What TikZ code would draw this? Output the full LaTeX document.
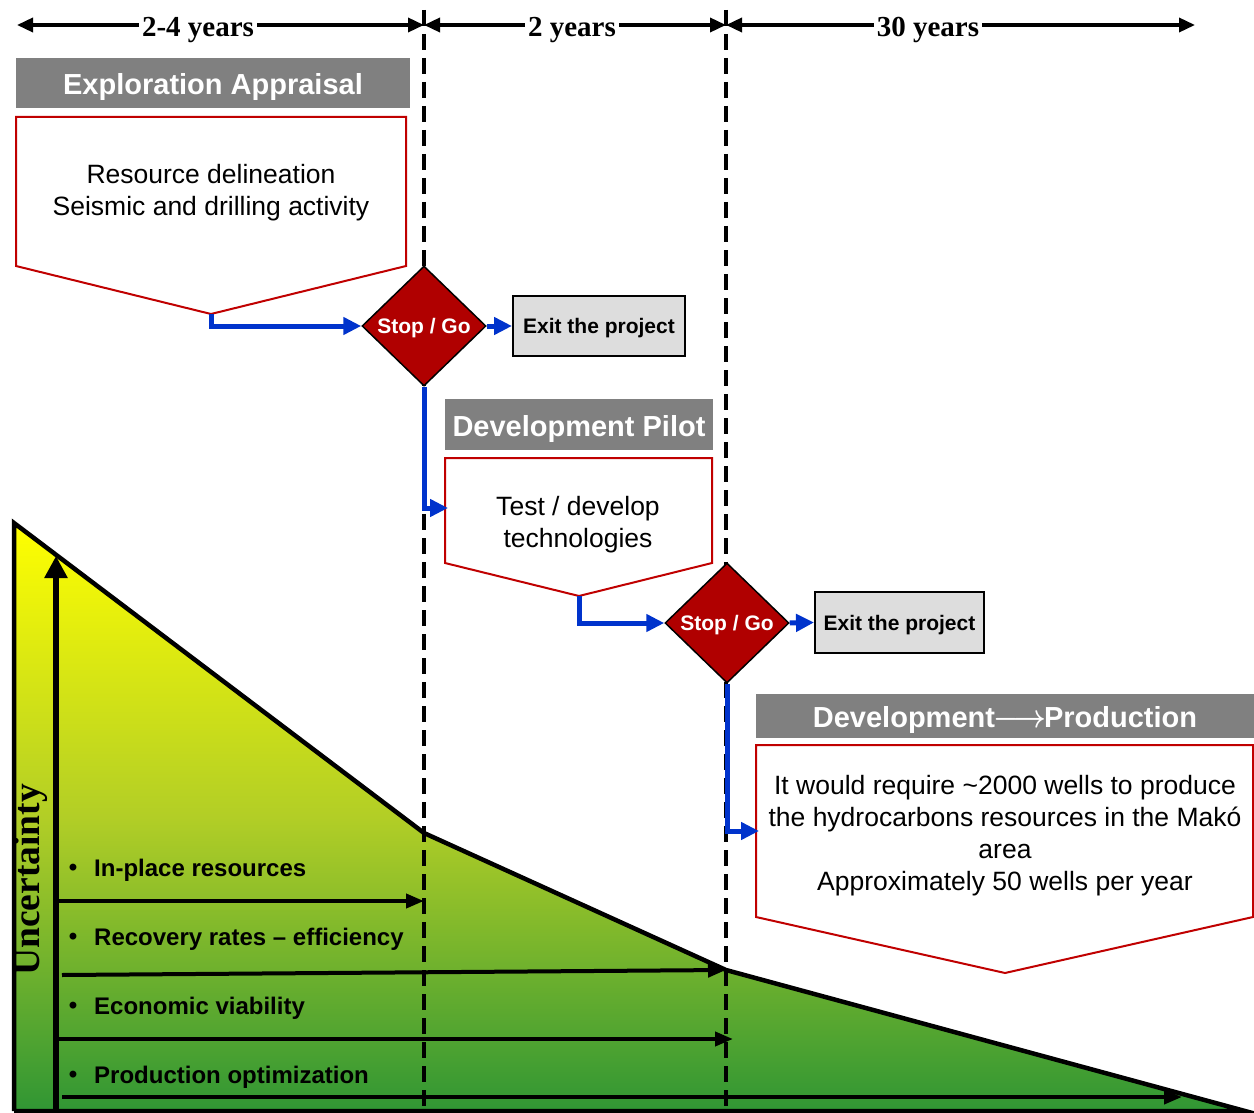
\documentclass[tikz,border=0pt]{standalone}
\usepackage{fontspec}
\setmainfont{Liberation Sans}
\newfontfamily\tnr{Liberation Serif}
\usetikzlibrary{shapes.geometric,arrows.meta}
\definecolor{hdrgray}{RGB}{128,128,128}
\definecolor{boxred}{RGB}{192,0,0}
\definecolor{dkred}{RGB}{176,0,0}
\definecolor{flowblue}{RGB}{0,51,204}
\definecolor{exitgray}{RGB}{221,221,221}
\definecolor{topyel}{RGB}{255,255,0}
\definecolor{midgrn}{RGB}{178,206,38}
\definecolor{botgrn}{RGB}{48,150,52}
\begin{document}
\begin{tikzpicture}[x=1pt,y=-1pt,
  header/.style={fill=hdrgray, text=white, inner sep=0pt, text height=23pt, text depth=0pt,
    font=\bfseries\fontsize{29}{34}\selectfont},
  pent/.style={draw=boxred, line width=2pt, fill=white, line join=miter},
  pentext/.style={align=center, inner sep=0pt, font=\fontsize{26.5}{32}\selectfont},
  stopgo/.style={diamond, draw=black, line width=1.5pt, fill=dkred, text=white,
    minimum width=124pt, minimum height=120pt, inner sep=0pt, text depth=0pt,
    font=\bfseries\fontsize{21}{25}\selectfont},
  exitbox/.style={draw=black, line width=2pt, fill=exitgray, inner sep=0pt, text depth=0pt,
    font=\bfseries\fontsize{21}{25}\selectfont},
  flow/.style={draw=flowblue, line width=5pt,
    -{Triangle[length=18pt,width=17pt]}},
  tline/.style={line width=3.5pt, {Triangle[length=16pt,width=14pt]}-{Triangle[length=16pt,width=14pt]}},
  yrs/.style={fill=white, inner sep=3pt, font=\tnr\bfseries\fontsize{29}{34}\selectfont},
  phase/.style={line width=4pt, dash pattern=on 16pt off 8pt},
  harrow/.style={line width=4pt, -{Triangle[length=18pt,width=14pt]}},
  itemtxt/.style={anchor=west, inner sep=0pt, font=\bfseries\fontsize{24}{28}\selectfont},
  bul/.style={inner sep=0pt, font=\bfseries\fontsize{24}{28}\selectfont}
]
\useasboundingbox (0,0) rectangle (1254,1113);

% uncertainty area
\shade[top color=topyel, bottom color=botgrn, middle color=midgrn]
  (14,523) -- (424,833) -- (726,970) -- (1245,1111) -- (14,1111) -- cycle;
\draw[line width=4.5pt, line join=miter]
  (14,1111) -- (14,523) -- (424,833) -- (726,970) -- (1245,1111) -- (14,1111);

% phase boundaries
\coordinate (b1top) at (424,10);
\coordinate (b1bot) at (424,1113);
\coordinate (b2top) at (726,10);
\coordinate (b2bot) at (726,1113);
\draw[phase] (b1top) -- (b1bot);
\draw[phase] (b2top) -- (b2bot);

% time line
\coordinate (t0) at (17,25);
\coordinate (t1) at (424,25);
\coordinate (t2) at (726,25);
\coordinate (t3) at (1195,25);
\draw[tline] (t0) -- (t1);
\draw[tline] (t1) -- (t2);
\draw[tline] (t2) -- (t3);
\node[yrs] (y1) at (198,30) {2-4 years};
\node[yrs] (y2) at (572,30) {2 years};
\node[yrs] (y3) at (928,30) {30 years};

% uncertainty axis
\coordinate (ua0) at (56,1111);
\coordinate (ua1) at (56,556);
\draw[line width=6pt, -{Triangle[length=22pt,width=22pt]}] (ua0) -- (ua1);
\node[rotate=90, inner sep=0pt, font=\tnr\bfseries\fontsize{37.5}{40}\selectfont] (unc) at (31,880) {Uncertainty};

% horizontal arrows
\coordinate (h1a) at (58,901);  \coordinate (h1b) at (424,901);
\coordinate (h2a) at (62,975);  \coordinate (h2b) at (726,970);
\coordinate (h3a) at (58,1039); \coordinate (h3b) at (733,1039);
\coordinate (h4a) at (62,1097); \coordinate (h4b) at (1182,1097);
\draw[harrow] (h1a) -- (h1b);
\draw[harrow] (h2a) -- (h2b);
\draw[harrow] (h3a) -- (h3b);
\draw[harrow] (h4a) -- (h4b);

\node[bul] (bu1) at (73,870) {•};
\node[bul] (bu2) at (73,939) {•};
\node[bul] (bu3) at (73,1008) {•};
\node[bul] (bu4) at (73,1077) {•};
\node[itemtxt] (it1) at (94,870) {In-place resources};
\node[itemtxt] (it2) at (94,939) {Recovery rates – efficiency};
\node[itemtxt] (it3) at (94,1008) {Economic viability};
\node[itemtxt] (it4) at (94,1077) {Production optimization};

% phase 1
\node[header, minimum width=394pt, minimum height=50pt] (h1) at (213,83) {Exploration Appraisal};
\draw[pent] (16,117) -- (406,117) -- (406,266) -- (211,314) -- (16,266) -- cycle;
\coordinate (tip1) at (211,314);
\node[pentext] (p1) at (211,193) {Resource delineation\\Seismic and drilling activity};

\node[stopgo] (d1) at (424,326) {Stop / Go};
\node[exitbox, minimum width=172pt, minimum height=60pt] (e1) at (599,326) {Exit the project};
\draw[flow] (tip1) |- (d1.west);
\draw[flow] (d1.east) -- (e1.west);

% phase 2
\node[header, minimum width=268pt, minimum height=51pt] (h2) at (579,424.5) {Development Pilot};
\draw[pent] (445,458) -- (712,458) -- (712,563) -- (579,596) -- (445,563) -- cycle;
\coordinate (tip2) at (579,596);
\coordinate (p2in) at (448,508);
\node[pentext] (p2) at (578,525) {Test / develop\\technologies};
\draw[flow] (d1.south) |- (p2in);

\node[stopgo] (d2) at (727,623) {Stop / Go};
\node[exitbox, minimum width=169pt, minimum height=61pt] (e2) at (899.5,622.5) {Exit the project};
\draw[flow] (tip2) |- (d2.west);
\draw[flow] (d2.east) -- (e2.west);

% phase 3
\node[header, minimum width=498pt, minimum height=44pt] (h3) at (1005,716)
  {Development\hspace{-2pt}\scalebox{1.15}[1.3]{\boldmath$\longrightarrow$}\hspace{-2pt}Production};
\draw[pent] (756,745) -- (1253,745) -- (1253,917) -- (1005,973) -- (756,917) -- cycle;
\coordinate (p3in) at (759,831);
\node[pentext] (p3) at (1005,836)
  {It would require \textasciitilde 2000 wells to produce\\the hydrocarbons resources in the Makó\\area\\Approximately 50 wells per year};
\draw[flow] (d2.south) |- (p3in);
\end{tikzpicture}
\end{document}
